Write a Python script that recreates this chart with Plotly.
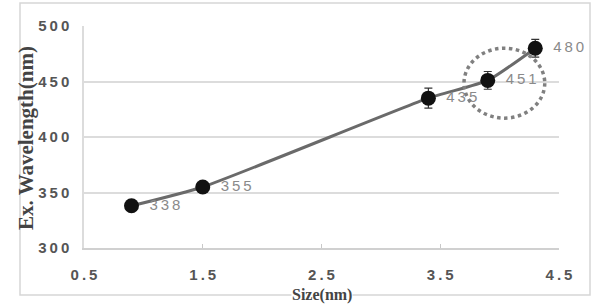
import plotly.graph_objects as go

sizes = [0.9, 1.5, 3.4, 3.9, 4.3]
wavelengths = [338, 355, 435, 451, 480]
errors = [4, 4, 9, 8, 8]
labels = ["338", "355", "435", "451", "480"]
x_ticks = [0.5, 1.5, 2.5, 3.5, 4.5]
x_ticklabels = ["0.5", "1.5", "2.5", "3.5", "4.5"]
y_ticks = [300, 350, 400, 450, 500]

SP = "\u2009"

def spaced(s):
    return SP.join(list(s))

W, H = 596, 304
L, R, T, B = 84, 37, 26, 56
pw, ph = W - L - R, H - T - B

def px(xp):
    return (xp - L) / pw

def py(yp):
    return 1 - (yp - T) / ph

fig = go.Figure()
fig.add_trace(go.Scatter(
    x=sizes, y=wavelengths, mode="lines",
    line=dict(color="#6a6a6a", width=3, shape="spline", smoothing=0.5),
    hoverinfo="skip", showlegend=False, cliponaxis=False))
fig.add_trace(go.Scatter(
    x=sizes, y=wavelengths, mode="markers+text",
    marker=dict(color="#111111", size=15),
    error_y=dict(type="data", array=errors, color="#333333", thickness=1.2, width=4),
    text=["\u2002" + spaced(t) for t in labels], textposition="middle right",
    textfont=dict(family="Arial, Liberation Sans", size=15, color="#8a8a8a"),
    showlegend=False, cliponaxis=False))

# dotted circle around the 451 point
fig.add_shape(type="circle", xref="x", yref="y",
              x0=3.70, x1=4.38, y0=417, y1=480,
              line=dict(color="#808080", width=3.5, dash="dot"))

# outer frame
fig.add_shape(type="rect", xref="paper", yref="paper",
              x0=px(20), x1=px(590), y0=py(295), y1=py(3),
              line=dict(color="#d6d6d6", width=1.5), layer="below")

fig.add_annotation(text="<b>Size(nm)</b>", xref="paper", yref="paper",
                   x=px(322), y=py(285), yanchor="top", showarrow=False,
                   bgcolor="white", borderpad=0,
                   font=dict(family="Liberation Serif, Times New Roman", size=16, color="#444444"))
fig.add_annotation(text="<b>Ex. Wavelength(nm)</b>", xref="paper", yref="paper",
                   x=px(12), y=py(138), textangle=-90, showarrow=False,
                   font=dict(family="Liberation Serif, Times New Roman", size=21, color="#444444"))

fig.update_layout(
    width=W, height=H,
    margin=dict(l=L, r=R, t=T, b=B),
    paper_bgcolor="white", plot_bgcolor="white",
    xaxis=dict(range=[0.5, 4.5], tickvals=x_ticks,
               ticktext=[spaced(t) for t in x_ticklabels],
               showgrid=False, zeroline=False, showline=True,
               linecolor="#d0d0d0", linewidth=1.5,
               ticks="inside", ticklen=4, tickcolor="#c8c8c8",
               ticklabelstandoff=12,
               tickfont=dict(family="Arial, Liberation Sans", size=15, color="#555555", weight="bold")),
    yaxis=dict(range=[300, 500], tickvals=y_ticks,
               ticktext=[spaced(str(v)) for v in y_ticks],
               showgrid=True, gridcolor="#dcdcdc", gridwidth=1.5,
               zeroline=False, showline=True, linecolor="#dcdcdc", linewidth=1.5,
               ticks="", ticklabelstandoff=10,
               tickfont=dict(family="Arial, Liberation Sans", size=15, color="#555555", weight="bold")),
)

fig.write_html("out.html")
